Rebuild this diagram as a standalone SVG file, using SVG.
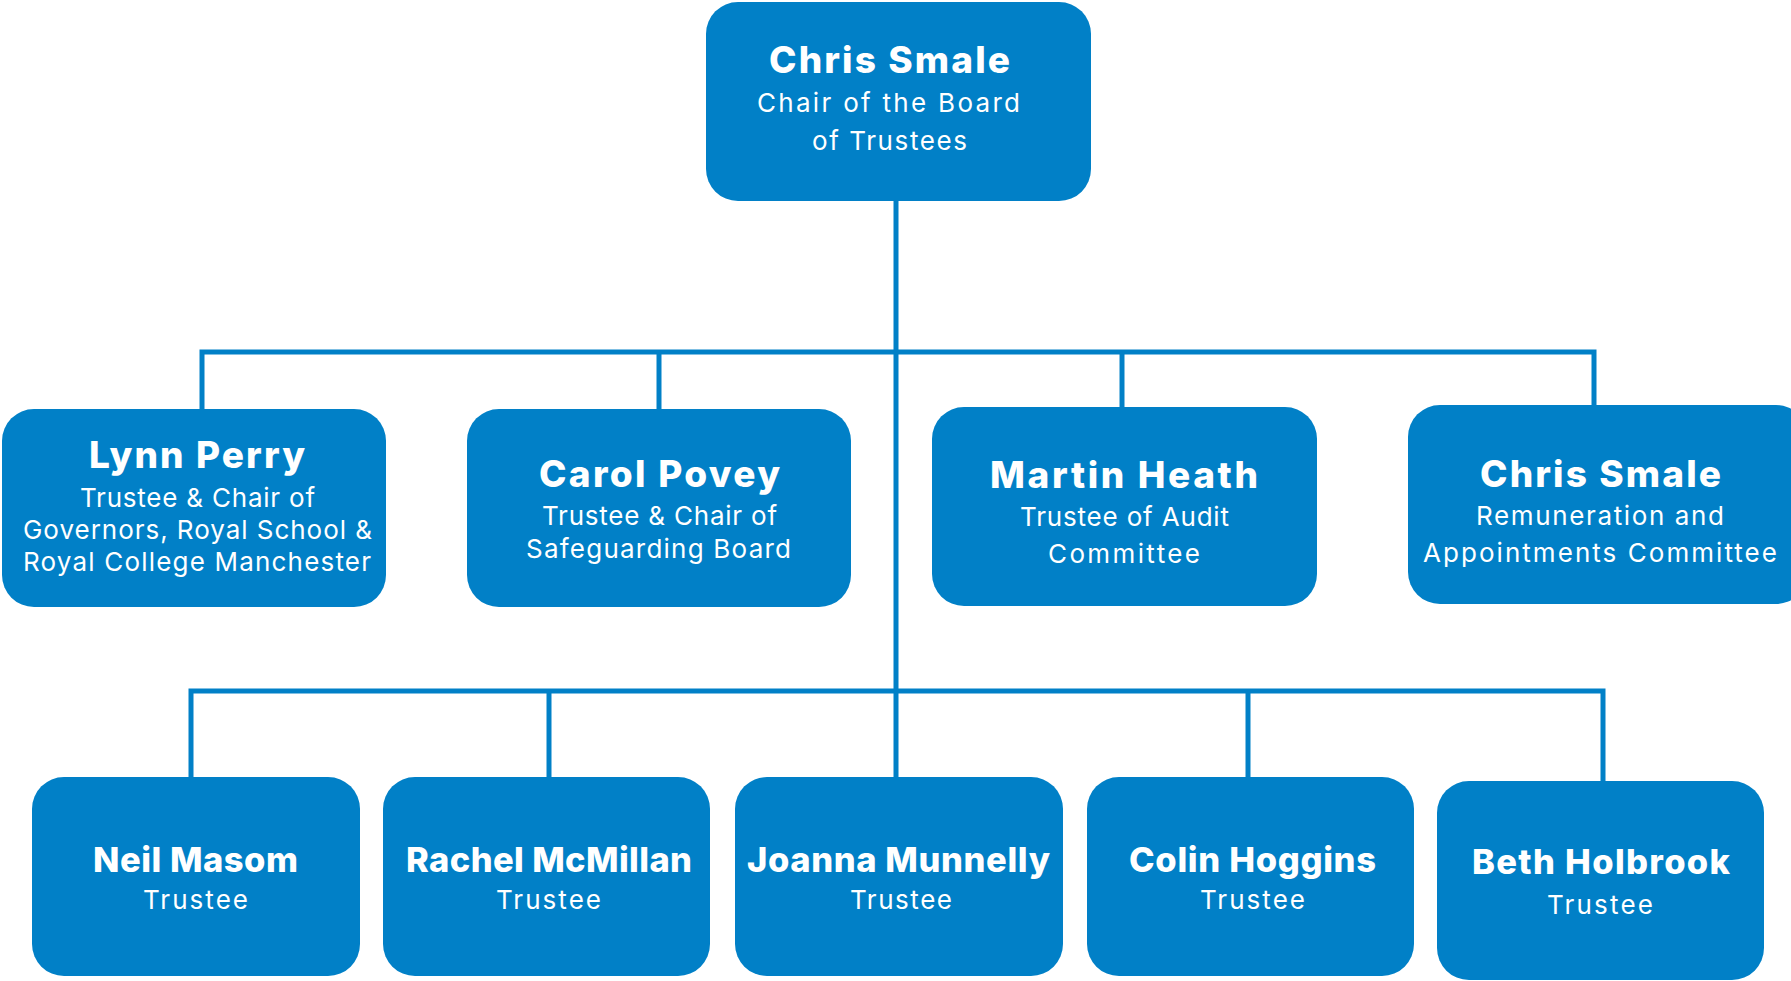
<svg xmlns="http://www.w3.org/2000/svg" width="1791" height="981" viewBox="0 0 1791 981">
<style>
.box{fill:#0180C7}
.t{fill:#fff;font-family:Inter,"Open Sans",sans-serif;font-weight:800;font-size:37px;text-anchor:middle}
.t2{fill:#fff;font-family:Inter,"Open Sans",sans-serif;font-weight:800;font-size:34.5px;text-anchor:middle}
.s{fill:#fff;font-family:Inter,"Open Sans",sans-serif;font-weight:400;font-size:26px;text-anchor:middle}
.c{fill:none;stroke:#0180C7;stroke-width:5;stroke-linejoin:miter;stroke-linecap:butt}
</style>
<rect width="1791" height="981" fill="#fff"/>
<g id="connectors">
<path class="c" d="M896 200 V777"/>
<path class="c" d="M202 409 V352 H1594 V405"/>
<path class="c" d="M659 352 V409"/>
<path class="c" d="M1122 352 V407"/>
<path class="c" d="M191 777 V691 H1603 V781"/>
<path class="c" d="M549 691 V777"/>
<path class="c" d="M1248 691 V777"/>
</g>
<g id="chair">
<rect class="box" x="706" y="2" width="385" height="199" rx="32"/>
<text class="t" x="889.5" y="73" textLength="241" lengthAdjust="spacing">Chris Smale</text>
<text class="s" x="888.5" y="112" textLength="263" lengthAdjust="spacing">Chair of the Board</text>
<text class="s" x="889.5" y="150" textLength="155" lengthAdjust="spacing">of Trustees</text>
</g>
<g id="lynn-perry">
<rect class="box" x="2" y="409" width="384" height="198" rx="32"/>
<text class="t" x="197" y="468" textLength="216" lengthAdjust="spacing">Lynn Perry</text>
<text class="s" x="197.5" y="507" textLength="235" lengthAdjust="spacing">Trustee &amp; Chair of</text>
<text class="s" x="197.5" y="538.5" textLength="349" lengthAdjust="spacing">Governors, Royal School &amp;</text>
<text class="s" x="197" y="571" textLength="348" lengthAdjust="spacing">Royal College Manchester</text>
</g>
<g id="carol-povey">
<rect class="box" x="467" y="409" width="384" height="198" rx="32"/>
<text class="t" x="659.5" y="487" textLength="241" lengthAdjust="spacing">Carol Povey</text>
<text class="s" x="659.5" y="525" textLength="235" lengthAdjust="spacing">Trustee &amp; Chair of</text>
<text class="s" x="658.5" y="558" textLength="265" lengthAdjust="spacing">Safeguarding Board</text>
</g>
<g id="martin-heath">
<rect class="box" x="932" y="407" width="385" height="199" rx="32"/>
<text class="t" x="1124" y="488" textLength="268" lengthAdjust="spacing">Martin Heath</text>
<text class="s" x="1124.5" y="526" textLength="209" lengthAdjust="spacing">Trustee of Audit</text>
<text class="s" x="1124" y="563" textLength="152" lengthAdjust="spacing">Committee</text>
</g>
<g id="chris-smale-remuneration">
<rect class="box" x="1408" y="405" width="400" height="199" rx="32"/>
<text class="t" x="1600.5" y="487" textLength="241" lengthAdjust="spacing">Chris Smale</text>
<text class="s" x="1600" y="525" textLength="248" lengthAdjust="spacing">Remuneration and</text>
<text class="s" x="1600" y="562" textLength="354" lengthAdjust="spacing">Appointments Committee</text>
</g>
<g id="neil-masom">
<rect class="box" x="32" y="777" width="328" height="199" rx="32"/>
<text class="t2" x="195.5" y="872" textLength="205" lengthAdjust="spacing">Neil Masom</text>
<text class="s" x="195.5" y="909" textLength="105" lengthAdjust="spacing">Trustee</text>
</g>
<g id="rachel-mcmillan">
<rect class="box" x="383" y="777" width="327" height="199" rx="32"/>
<text class="t2" x="549" y="872" textLength="286" lengthAdjust="spacing">Rachel McMillan</text>
<text class="s" x="548.5" y="909" textLength="105" lengthAdjust="spacing">Trustee</text>
</g>
<g id="joanna-munnelly">
<rect class="box" x="735" y="777" width="328" height="199" rx="32"/>
<text class="t2" x="898.5" y="872" textLength="303" lengthAdjust="spacing">Joanna Munnelly</text>
<text class="s" x="901" y="909" textLength="102" lengthAdjust="spacing">Trustee</text>
</g>
<g id="colin-hoggins">
<rect class="box" x="1087" y="777" width="327" height="199" rx="32"/>
<text class="t2" x="1252.5" y="872" textLength="247" lengthAdjust="spacing">Colin Hoggins</text>
<text class="s" x="1252.5" y="909" textLength="105" lengthAdjust="spacing">Trustee</text>
</g>
<g id="beth-holbrook">
<rect class="box" x="1437" y="781" width="327" height="199" rx="32"/>
<text class="t2" x="1601" y="874" textLength="258" lengthAdjust="spacing">Beth Holbrook</text>
<text class="s" x="1600" y="914" textLength="106" lengthAdjust="spacing">Trustee</text>
</g>
</svg>
